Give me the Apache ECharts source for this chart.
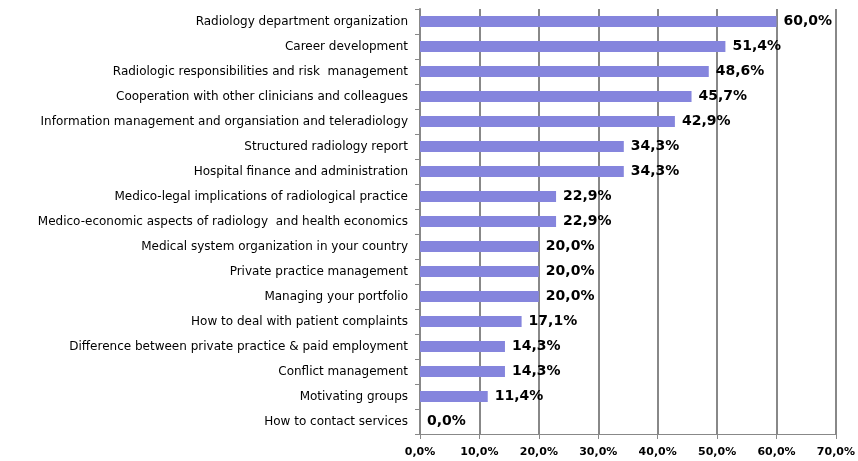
<!DOCTYPE html>
<html>
<head>
<meta charset="utf-8">
<script src="https://cdn.jsdelivr.net/npm/echarts@6/dist/echarts.min.js"></script>
<style>
  html, body { margin: 0; padding: 0; background: #fff; }
  #main { width: 858px; height: 461px; }
</style>
</head>
<body>
<div id="main"></div>
<script>
var topics = [
  'Radiology department organization',
  'Career development',
  'Radiologic responsibilities and risk  management',
  'Cooperation with other clinicians and colleagues',
  'Information management and organsiation and teleradiology',
  'Structured radiology report',
  'Hospital finance and administration',
  'Medico-legal implications of radiological practice',
  'Medico-economic aspects of radiology  and health economics',
  'Medical system organization in your country',
  'Private practice management',
  'Managing your portfolio',
  'How to deal with patient complaints',
  'Difference between private practice & paid employment',
  'Conflict management',
  'Motivating groups',
  'How to contact services'
]
var percents = [60.0, 51.4, 48.6, 45.7, 42.9, 34.3, 34.3, 22.9, 22.9, 20.0, 20.0, 20.0, 17.1, 14.3, 14.3, 11.4, 0.0]

function pct (v) {
  return v.toFixed(1).replace('.', ',') + '%'
}

var myChart = echarts.init(document.querySelector('#main'))

var option = {
  animation: false,
  grid: { left: 420, right: 22, top: 9, bottom: 27 },
  xAxis: {
    type: 'value',
    min: 0,
    max: 70,
    interval: 10,
    axisLine: { show: true, lineStyle: { color: '#888', width: 1 } },
    axisTick: { show: true, length: 5, lineStyle: { color: '#888' } },
    splitLine: { show: true, lineStyle: { color: '#888', width: 2 } },
    axisLabel: {
      formatter: function (v) { return pct(v) },
      color: '#000',
      fontFamily: 'DejaVu Sans',
      fontWeight: 'bold',
      fontSize: 11,
      margin: 13
    }
  },
  yAxis: {
    type: 'category',
    inverse: true,
    data: topics,
    axisLine: { show: true, lineStyle: { color: '#888', width: 2 } },
    axisTick: { show: true, length: 5, lineStyle: { color: '#888' } },
    axisLabel: {
      color: '#000',
      fontFamily: 'DejaVu Sans',
      fontSize: 12,
      margin: 12
    }
  },
  series: [{
    type: 'bar',
    data: percents,
    barWidth: 11,
    itemStyle: { color: '#8585dd' },
    label: {
      show: true,
      position: 'right',
      distance: 7,
      formatter: function (p) { return pct(p.value) },
      color: '#000',
      fontFamily: 'DejaVu Sans',
      fontWeight: 'bold',
      fontSize: 14
    }
  }]
}

myChart.setOption(option)
</script>
</body>
</html>
